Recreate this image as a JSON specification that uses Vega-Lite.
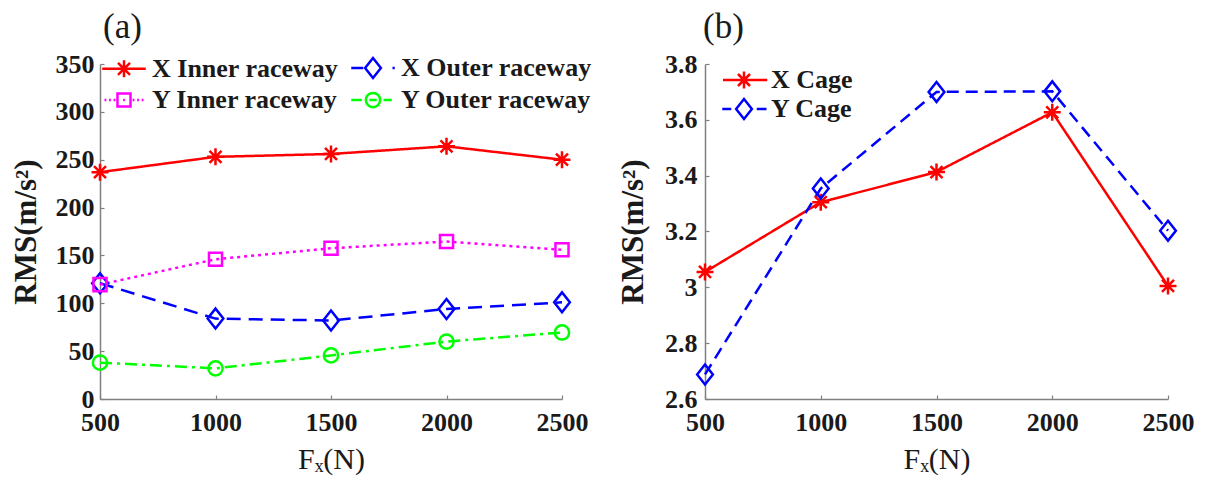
{
  "$schema": "https://vega.github.io/schema/vega-lite/v6.json",
  "padding": {"left": 10, "top": 10, "right": 5, "bottom": 5},
  "spacing": 25,
  "background": "white",
  "config": {
    "font": "Liberation Serif",
    "view": {"stroke": null},
    "axis": {
      "grid": false,
      "domainColor": "#808080",
      "domainWidth": 1.5,
      "tickColor": "#808080",
      "tickWidth": 1.2,
      "tickSize": -4,
      "labelFont": "Liberation Serif",
      "labelFontSize": 26,
      "labelFontWeight": "bold",
      "labelColor": "#1a1a1a",
      "titleFont": "Liberation Serif",
      "titleColor": "#1a1a1a"
    },
    "title": {"font": "Liberation Serif", "fontSize": 35, "fontWeight": "normal", "color": "#1a1a1a", "anchor": "start", "frame": "group"}
  },
  "datasets": {
    "a": [
      {"series": "X Inner raceway", "Fx": 500, "rms": 237},
      {"series": "X Inner raceway", "Fx": 1000, "rms": 253},
      {"series": "X Inner raceway", "Fx": 1500, "rms": 256},
      {"series": "X Inner raceway", "Fx": 2000, "rms": 264},
      {"series": "X Inner raceway", "Fx": 2500, "rms": 250},
      {"series": "X Outer raceway", "Fx": 500, "rms": 121},
      {"series": "X Outer raceway", "Fx": 1000, "rms": 84},
      {"series": "X Outer raceway", "Fx": 1500, "rms": 82},
      {"series": "X Outer raceway", "Fx": 2000, "rms": 94},
      {"series": "X Outer raceway", "Fx": 2500, "rms": 101},
      {"series": "Y Inner raceway", "Fx": 500, "rms": 119.5},
      {"series": "Y Inner raceway", "Fx": 1000, "rms": 146},
      {"series": "Y Inner raceway", "Fx": 1500, "rms": 157.5},
      {"series": "Y Inner raceway", "Fx": 2000, "rms": 164.5},
      {"series": "Y Inner raceway", "Fx": 2500, "rms": 156},
      {"series": "Y Outer raceway", "Fx": 500, "rms": 38},
      {"series": "Y Outer raceway", "Fx": 1000, "rms": 32},
      {"series": "Y Outer raceway", "Fx": 1500, "rms": 45.5},
      {"series": "Y Outer raceway", "Fx": 2000, "rms": 60},
      {"series": "Y Outer raceway", "Fx": 2500, "rms": 69.5}
    ],
    "b": [
      {"series": "X Cage", "Fx": 500, "rms": 3.055},
      {"series": "X Cage", "Fx": 1000, "rms": 3.305},
      {"series": "X Cage", "Fx": 1500, "rms": 3.413},
      {"series": "X Cage", "Fx": 2000, "rms": 3.627},
      {"series": "X Cage", "Fx": 2500, "rms": 3.005},
      {"series": "Y Cage", "Fx": 500, "rms": 2.688},
      {"series": "Y Cage", "Fx": 1000, "rms": 3.354},
      {"series": "Y Cage", "Fx": 1500, "rms": 3.7},
      {"series": "Y Cage", "Fx": 2000, "rms": 3.702},
      {"series": "Y Cage", "Fx": 2500, "rms": 3.203}
    ]
  },
  "hconcat": [
    {
      "width": 462,
      "height": 335,
      "title": {"text": "(a)", "dx": 3, "offset": 6},
      "data": {"name": "a"},
      "encoding": {
        "x": {"field": "Fx", "type": "quantitative", "scale": {"domain": [500, 2500], "nice": false, "zero": false},
          "axis": {"values": [500, 1000, 1500, 2000, 2500], "labelFlush": false, "labelPadding": 14, "format": "d", "title": "Fₓ(N)", "titleFontSize": 30, "titleFontWeight": "normal", "titlePadding": 9}},
        "y": {"field": "rms", "type": "quantitative", "scale": {"domain": [0, 350], "nice": false},
          "axis": {"values": [0, 50, 100, 150, 200, 250, 300, 350], "labelPadding": 10, "title": "RMS(m/s²)", "titleFontSize": 31, "titleFontWeight": "bold", "titlePadding": 13}}
      },
      "layer": [
        {
          "mark": {"type": "line", "strokeWidth": 2.5},
          "encoding": {
            "color": {"field": "series", "type": "nominal", "legend": null,
              "scale": {"domain": ["X Inner raceway", "X Outer raceway", "Y Inner raceway", "Y Outer raceway"], "range": ["#ff0000", "#0000ff", "#ff00ff", "#00ff00"]}},
            "strokeDash": {"field": "series", "type": "nominal", "legend": null,
              "scale": {"domain": ["X Inner raceway", "X Outer raceway", "Y Inner raceway", "Y Outer raceway"], "range": [[1, 0], [14, 8], [3, 4], [12, 5, 3, 5]]}}
          }
        },
        {
          "mark": {"type": "point", "filled": false, "strokeWidth": 2.5, "size": 225, "opacity": 1},
          "encoding": {
            "color": {"field": "series", "type": "nominal", "legend": null,
              "scale": {"domain": ["X Inner raceway", "X Outer raceway", "Y Inner raceway", "Y Outer raceway"], "range": ["#ff0000", "#0000ff", "#ff00ff", "#00ff00"]}},
            "shape": {"field": "series", "type": "nominal", "legend": null,
              "scale": {"domain": ["X Inner raceway", "X Outer raceway", "Y Inner raceway", "Y Outer raceway"],
                "range": [
                  "M0,-1.13L0,1.13M-1.13,0L1.13,0M-0.8,-0.8L0.8,0.8M-0.8,0.8L0.8,-0.8",
                  "M0,-1.33L1.05,0L0,1.33L-1.05,0Z",
                  "M-0.87,-0.87L0.87,-0.87L0.87,0.87L-0.87,0.87Z",
                  "M0.95,0A0.95,0.95 0 1,1 -0.95,0A0.95,0.95 0 1,1 0.95,0Z"
                ]}}
          }
        },
        {
          "transform": [{"filter": "datum.rms < -1000"}],
          "mark": {"type": "point", "filled": false, "strokeWidth": 2.5, "size": 225, "opacity": 1},
          "encoding": {
            "color": {"field": "series", "type": "nominal",
              "scale": {"domain": ["X Inner raceway", "Y Inner raceway", "X Outer raceway", "Y Outer raceway"], "range": ["#ff0000", "#ff00ff", "#0000ff", "#00ff00"]},
              "legend": {"orient": "none", "legendX": 11, "legendY": -9, "columns": 2, "title": null, "padding": 0,
                "symbolSize": 225, "symbolStrokeWidth": 2.5, "symbolFillColor": "transparent",
                "labelFont": "Liberation Serif", "labelFontSize": 26, "labelFontWeight": "bold", "labelColor": "#1a1a1a", "labelLimit": 400,
                "labelOffset": 15, "columnPadding": 7, "rowPadding": 4}},
            "shape": {"field": "series", "type": "nominal",
              "scale": {"domain": ["X Inner raceway", "Y Inner raceway", "X Outer raceway", "Y Outer raceway"],
                "range": [
                  "M-2.9,0L2.9,0M0,-1.13L0,1.13M-1.13,0L1.13,0M-0.8,-0.8L0.8,0.8M-0.8,0.8L0.8,-0.8",
                  "M-2.6,0L-2.35,0M-2.0,0L-1.75,0M-1.4,0L-1.15,0M1.15,0L1.4,0M1.75,0L2.0,0M2.35,0L2.6,0M-0.12,0L0.12,0M-0.87,-0.87L0.87,-0.87L0.87,0.87L-0.87,0.87Z",
                  "M-2.9,0L-1.3,0M2.6,0L2.9,0M0,-1.33L1.05,0L0,1.33L-1.05,0Z",
                  "M-2.9,0L-1.5,0M-0.5,0L0.5,0M1.4,0L2.5,0M0.95,0A0.95,0.95 0 1,1 -0.95,0A0.95,0.95 0 1,1 0.95,0Z"
                ]},
              "legend": {"orient": "none", "legendX": 11, "legendY": -9, "columns": 2, "title": null, "padding": 0,
                "symbolSize": 225, "symbolStrokeWidth": 2.5, "symbolFillColor": "transparent",
                "labelFont": "Liberation Serif", "labelFontSize": 26, "labelFontWeight": "bold", "labelColor": "#1a1a1a", "labelLimit": 400,
                "labelOffset": 15, "columnPadding": 7, "rowPadding": 4}}
          }
        }
      ],
      "resolve": {"scale": {"color": "independent", "shape": "independent", "strokeDash": "independent"}}
    },
    {
      "width": 463,
      "height": 335,
      "title": {"text": "(b)", "dx": -2, "offset": 6},
      "data": {"name": "b"},
      "encoding": {
        "x": {"field": "Fx", "type": "quantitative", "scale": {"domain": [500, 2500], "nice": false, "zero": false},
          "axis": {"values": [500, 1000, 1500, 2000, 2500], "labelFlush": false, "labelPadding": 14, "format": "d", "title": "Fₓ(N)", "titleFontSize": 30, "titleFontWeight": "normal", "titlePadding": 9}},
        "y": {"field": "rms", "type": "quantitative", "scale": {"domain": [2.6, 3.8], "nice": false, "zero": false},
          "axis": {"values": [2.6, 2.8, 3.0, 3.2, 3.4, 3.6, 3.8], "format": "~g", "labelPadding": 12, "title": "RMS(m/s²)", "titleFontSize": 31, "titleFontWeight": "bold", "titlePadding": 15}}
      },
      "layer": [
        {
          "mark": {"type": "line", "strokeWidth": 2.5},
          "encoding": {
            "color": {"field": "series", "type": "nominal", "legend": null,
              "scale": {"domain": ["X Cage", "Y Cage"], "range": ["#ff0000", "#0000ff"]}},
            "strokeDash": {"field": "series", "type": "nominal", "legend": null,
              "scale": {"domain": ["X Cage", "Y Cage"], "range": [[1, 0], [12, 7]]}}
          }
        },
        {
          "mark": {"type": "point", "filled": false, "strokeWidth": 2.5, "size": 225, "opacity": 1},
          "encoding": {
            "color": {"field": "series", "type": "nominal", "legend": null,
              "scale": {"domain": ["X Cage", "Y Cage"], "range": ["#ff0000", "#0000ff"]}},
            "shape": {"field": "series", "type": "nominal", "legend": null,
              "scale": {"domain": ["X Cage", "Y Cage"],
                "range": [
                  "M0,-1.13L0,1.13M-1.13,0L1.13,0M-0.8,-0.8L0.8,0.8M-0.8,0.8L0.8,-0.8",
                  "M0,-1.33L1.05,0L0,1.33L-1.05,0Z"
                ]}}
          }
        },
        {
          "transform": [{"filter": "datum.rms < -1000"}],
          "mark": {"type": "point", "filled": false, "strokeWidth": 2.5, "size": 225, "opacity": 1},
          "encoding": {
            "color": {"field": "series", "type": "nominal",
              "scale": {"domain": ["X Cage", "Y Cage"], "range": ["#ff0000", "#0000ff"]},
              "legend": {"orient": "none", "legendX": 26, "legendY": 3, "columns": 1, "title": null, "padding": 0,
                "symbolSize": 225, "symbolStrokeWidth": 2.5, "symbolFillColor": "transparent",
                "labelFont": "Liberation Serif", "labelFontSize": 26, "labelFontWeight": "bold", "labelColor": "#1a1a1a", "labelLimit": 400,
                "labelOffset": 14, "rowPadding": 0}},
            "shape": {"field": "series", "type": "nominal",
              "scale": {"domain": ["X Cage", "Y Cage"],
                "range": [
                  "M-2.8,0L3.1,0M0,-1.13L0,1.13M-1.13,0L1.13,0M-0.8,-0.8L0.8,0.8M-0.8,0.8L0.8,-0.8",
                  "M-2.9,0L-1.7,0M1.7,0L3.0,0M0,-1.33L1.05,0L0,1.33L-1.05,0Z"
                ]},
              "legend": {"orient": "none", "legendX": 26, "legendY": 3, "columns": 1, "title": null, "padding": 0,
                "symbolSize": 225, "symbolStrokeWidth": 2.5, "symbolFillColor": "transparent",
                "labelFont": "Liberation Serif", "labelFontSize": 26, "labelFontWeight": "bold", "labelColor": "#1a1a1a", "labelLimit": 400,
                "labelOffset": 14, "rowPadding": 0}}
          }
        }
      ],
      "resolve": {"scale": {"color": "independent", "shape": "independent", "strokeDash": "independent"}}
    }
  ]
}
